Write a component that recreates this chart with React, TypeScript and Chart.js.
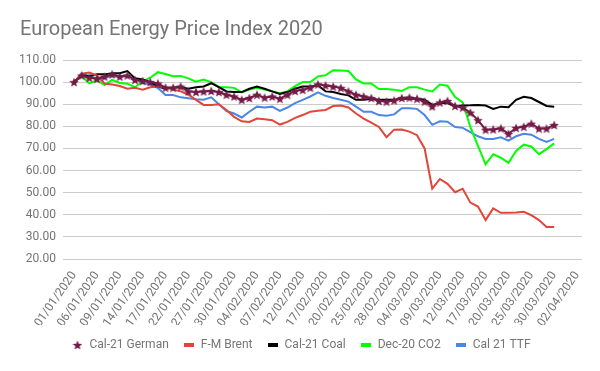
import React, { useEffect, useRef } from "react";
import { Chart, registerables } from "chart.js";
Chart.register(...registerables);

const dates = [
  "01/01/2020","02/01/2020","03/01/2020","06/01/2020","07/01/2020","08/01/2020","09/01/2020","10/01/2020",
  "13/01/2020","14/01/2020","15/01/2020","16/01/2020","17/01/2020","20/01/2020","21/01/2020","22/01/2020",
  "23/01/2020","24/01/2020","27/01/2020","28/01/2020","29/01/2020","30/01/2020","31/01/2020",
  "03/02/2020","04/02/2020","05/02/2020","06/02/2020","07/02/2020","10/02/2020","11/02/2020","12/02/2020",
  "13/02/2020","14/02/2020","17/02/2020","18/02/2020","19/02/2020","20/02/2020","21/02/2020","24/02/2020",
  "25/02/2020","26/02/2020","27/02/2020","28/02/2020",
  "02/03/2020","03/03/2020","04/03/2020","05/03/2020","06/03/2020","09/03/2020","10/03/2020","11/03/2020",
  "12/03/2020","13/03/2020","16/03/2020","17/03/2020","18/03/2020","19/03/2020","20/03/2020","23/03/2020",
  "24/03/2020","25/03/2020","26/03/2020","27/03/2020","30/03/2020","31/03/2020",
  "01/04/2020","02/04/2020",
];

const tickDates = [
  "01/01/2020","06/01/2020","09/01/2020","14/01/2020","17/01/2020","22/01/2020","27/01/2020","30/01/2020",
  "04/02/2020","07/02/2020","12/02/2020","17/02/2020","20/02/2020","25/02/2020","28/02/2020","04/03/2020",
  "09/03/2020","12/03/2020","17/03/2020","20/03/2020","25/03/2020","30/03/2020","02/04/2020",
];

const german = [
  100, 103, 102, 101.5, 102.5, 103.5, 102.5, 103, 101, 100.5, 100, 99.4, 97.5, 97.5, 98, 95.8,
  95.5, 95.8, 96, 95.5, 94.3, 93.5, 92, 92.8, 94.3, 93, 93.5, 92.5, 94.3, 96, 96.5, 97.5,
  99, 98.5, 98, 97.4, 95.8, 94.3, 93.5, 92.8, 91.5, 91.2, 91.7, 92.8, 93, 92.5, 91.2, 89,
  90.8, 91.5, 89.2, 88.5, 86.2, 82.8, 78.5, 78.6, 79.1, 76.6, 79.3, 79.8, 81.2, 79, 79, 80.6,
];

const brent = [
  100, 103.8, 104.3, 103, 99.4, 98.9, 98.2, 97, 97.4, 96.6, 97.7, 98, 97.7, 96.6, 95.8, 94.3,
  92, 89.7, 89.7, 90, 87.4, 84.3, 82.3, 82, 83.5, 83.2, 82.8, 80.8, 82, 83.8, 85.1, 86.6,
  87, 87.4, 89.2, 89.4, 88.5, 85.8, 83.5, 81.7, 79.7, 75.1, 78.5, 78.6, 77.6, 76, 70, 51.8,
  56.2, 54, 50.2, 51.8, 45.5, 43.7, 37.6, 42.9, 40.9, 40.9, 41, 41.4, 39.8, 37.6, 34.5, 34.5,
];

const coal = [
  100, 103, 102.8, 103.5, 103.5, 104, 104, 105, 101.7, 101.2, 100, 98, 97, 97.4, 97.7, 97,
  97.7, 98, 99.5, 97.7, 95.8, 95.5, 95.5, 97, 98, 97, 95.8, 94.6, 95.5, 97, 98, 98,
  98.6, 95.8, 95.5, 94.6, 94, 92, 92, 92.5, 92, 92, 92, 92.5, 92.5, 92.5, 92, 89.7,
  90.5, 90.5, 89, 89.4, 89.5, 89.7, 89.4, 87.9, 88.9, 88.6, 92, 93.4, 92.8, 91, 89.2, 88.9,
];

const co2 = [
  100, 102.8, 99.4, 100.9, 98.7, 101, 99.6, 99.3, 97.7, 100.3, 102, 104.5, 103.7, 102.7, 102.8, 101.7,
  100.2, 101.2, 100, 97.7, 97.7, 97.4, 95.4, 96.6, 97.4, 96.6, 95.8, 95, 95.8, 98.2, 100, 100,
  102.6, 103.1, 105.4, 105.3, 105, 101.2, 99.4, 99.4, 96.9, 96.9, 96.6, 96, 97.7, 97.7, 96.6, 95.8,
  98.9, 98.4, 93.2, 90.8, 79.7, 71.2, 62.8, 67.4, 65.8, 63.5, 68.9, 71.7, 70.9, 67.4, 69.7, 72.3,
];

const ttf = [
  100, 103.8, 102.7, 101.6, 102, 102.7, 102.4, 102.7, 101.2, 99.6, 98.9, 97.3, 94.2, 94.2, 93.1, 92.7,
  92.3, 92, 93.1, 90, 86.9, 85.8, 84, 86.6, 88.9, 88.5, 88.9, 87, 88.5, 90.5, 92, 93.5,
  95.4, 93.8, 92.8, 92, 91.2, 88.9, 86.6, 86.6, 85.1, 84.8, 85.4, 88.2, 88.2, 87.9, 85.1, 80.7,
  82.3, 82.1, 79.7, 79.3, 77.4, 75.5, 74.3, 74.3, 75, 73.5, 75.5, 76.6, 76.2, 74.3, 73, 74.3,
];

const seriesNames = ["Cal-21 German", "F-M Brent", "Cal-21 Coal", "Dec-20 CO2", "Cal 21 TTF"];
const seriesColors = ["#741b47", "#e2453a", "#000000", "#00ff00", "#4a86e8"];

function makeStar(color: string, size: number) {
  const c = document.createElement("canvas");
  c.width = size;
  c.height = size;
  const ctx = c.getContext("2d")!;
  const cx = size / 2, cy = size / 2;
  const R = size / 2, r = R * 0.45;
  ctx.beginPath();
  for (let k = 0; k < 10; k++) {
    const rad = k % 2 === 0 ? R : r;
    const a = -Math.PI / 2 + (k * Math.PI) / 5;
    const px = cx + rad * Math.cos(a), py = cy + rad * Math.sin(a) + size * 0.05;
    if (k === 0) ctx.moveTo(px, py); else ctx.lineTo(px, py);
  }
  ctx.closePath();
  ctx.fillStyle = color;
  ctx.fill();
  return c;
}

function makeBar(color: string, w: number, h: number) {
  const c = document.createElement("canvas");
  c.width = w;
  c.height = h;
  const ctx = c.getContext("2d")!;
  ctx.fillStyle = color;
  ctx.fillRect(0, 0, w, h);
  return c;
}

const toXY = (arr: number[]) => arr.map((v, i) => ({ x: i, y: v }));

export default function App() {
  const ref = useRef<HTMLCanvasElement>(null);
  useEffect(() => {
    const tickIdx = tickDates.map((d) => dates.indexOf(d));
    const all = [german, brent, coal, co2, ttf];
    const font = "Roboto, 'Noto Sans', sans-serif";
    const datasets = all.map((arr, k) => {
      const isStar = k === 0;
      return {
        label: seriesNames[k],
        data: toXY(arr),
        borderColor: seriesColors[k],
        backgroundColor: seriesColors[k],
        borderWidth: 2,
        pointStyle: isStar ? makeStar(seriesColors[k], 10) : makeBar(seriesColors[k], 10, 4),
        pointRadius: isStar ? 5 : 0,
        pointHoverRadius: isStar ? 5 : 0,
        tension: 0,
      };
    });
    const chart = new Chart(ref.current!, {
      type: "line",
      data: { datasets },
      options: {
        animation: false,
        responsive: false,
        maintainAspectRatio: false,
        layout: { padding: { left: 20, right: 18, top: 0, bottom: 10 } },
        plugins: {
          title: {
            display: true,
            text: "European Energy Price Index 2020",
            align: "start",
            color: "#757575",
            font: { family: font, size: 20, weight: "normal" },
            padding: { top: 18, bottom: 18 },
          },
          legend: {
            position: "bottom",
            labels: {
              usePointStyle: true,
              boxWidth: 12,
              padding: 14,
              color: "#757575",
              font: { family: font, size: 12 },
            },
          },
          tooltip: { enabled: false },
        },
        scales: {
          x: {
            type: "linear",
            min: -1.45,
            max: 66.65,
            grid: { display: false },
            border: { display: false },
            afterBuildTicks: (s: any) => {
              s.ticks = tickIdx.map((v) => ({ value: v }));
            },
            afterFit: (s: any) => {
              s.height = 66;
            },
            ticks: {
              autoSkip: false,
              minRotation: 55,
              maxRotation: 55,
              padding: 2,
              color: "#757575",
              font: { family: font, size: 12 },
              callback: (v: any) => dates[v as number] ?? "",
            },
          },
          y: {
            min: 20,
            max: 110,
            grid: { color: "#cccccc", drawTicks: false },
            border: { display: false },
            afterFit: (s: any) => {
              s.width = 43;
            },
            ticks: {
              stepSize: 10,
              padding: 7,
              color: "#757575",
              font: { family: font, size: 12 },
              callback: (v: any) => Number(v).toFixed(2),
            },
          },
        },
      },
    });
    return () => chart.destroy();
  }, []);
  return (
    <div style={{ position: "fixed", left: 0, top: 0, width: 600, height: 371, background: "#fff" }}>
      <canvas ref={ref} width={600} height={371} style={{ width: 600, height: 371, display: "block" }} />
    </div>
  );
}
